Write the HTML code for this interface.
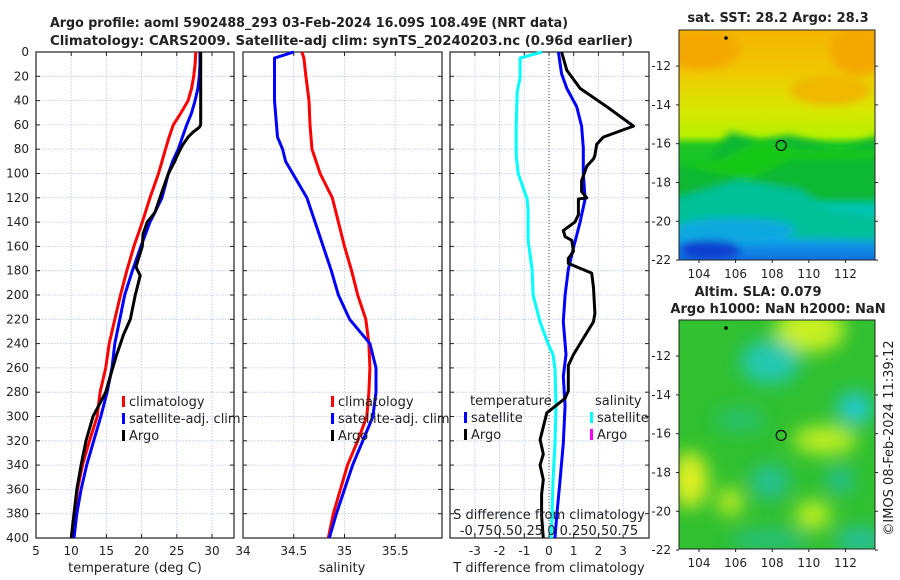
<!DOCTYPE html>
<html><head><meta charset="utf-8"><style>
html,body{margin:0;padding:0;background:#fff;}
svg{display:block;font-family:"DejaVu Sans","Liberation Sans",sans-serif;}
</style></head><body>
<svg id="c" width="900" height="580" viewBox="0 0 900 580"></svg>
<script>
// ---------- data ----------
const tDepth = [0,10,20,30,40,50,60,70,80,90,100,120,140,160,180,200,220,240,260,280,300,320,340,360,380,400];
const tClim  = [27.7,27.6,27.4,27.1,26.6,25.6,24.5,23.9,23.4,22.9,22.4,21.2,20.1,18.9,17.9,17.0,16.2,15.4,14.9,14.1,13.7,12.6,11.6,10.9,10.5,10.1];
const tSat   = [28.3,28.3,28.2,28.0,27.6,27.1,26.4,25.8,25.2,24.4,23.8,22.9,21.2,19.9,18.7,17.6,16.9,16.2,15.8,15.1,14.2,13.2,12.2,11.4,10.8,10.4];
const argoDepth = [0,10,20,30,40,50,60,62,66,70,76,80,86,90,100,110,120,132,140,150,160,173,177,184,200,220,233,240,250,260,270,280,290,300,310,320,340,360,380,400];
const argoT = [28.4,28.4,28.4,28.4,28.4,28.4,28.4,28.2,27.3,26.6,25.9,25.5,25.0,24.7,23.8,23.2,22.6,21.9,20.8,20.2,20.1,19.4,19.2,19.8,19.1,18.4,17.4,17.0,16.4,15.9,15.4,14.9,14.0,13.1,12.6,12.1,11.4,10.8,10.4,10.0];
const sDepth = [0,5,20,40,60,70,80,90,100,120,140,160,180,200,220,240,260,280,300,320,340,360,380,400];
const sClim  = [34.58,34.60,34.62,34.65,34.66,34.67,34.68,34.72,34.76,34.88,34.94,35.00,35.07,35.13,35.21,35.24,35.25,35.24,35.22,35.13,35.03,34.96,34.89,34.84];
const sSat   = [34.50,34.31,34.31,34.31,34.33,34.34,34.39,34.42,34.49,34.63,34.71,34.79,34.87,34.94,35.05,35.25,35.31,35.31,35.28,35.18,35.08,35.00,34.92,34.85];
const dDepthS = [0,5,21,33,61,85,100,121,130,155,179,200,222,240,249,261,291,322,352,382,400];
const dSsat   = [-0.07,-0.29,-0.29,-0.32,-0.33,-0.33,-0.31,-0.22,-0.21,-0.21,-0.17,-0.16,-0.09,-0.01,0.04,0.06,0.07,0.06,0.04,0.03,0.02];
const dDepthT = [0,18,30,45,61,79,100,121,140,161,179,200,222,249,267,291,322,352,382,400];
const dTsat   = [0.38,0.51,0.72,1.12,1.32,1.39,1.39,1.46,1.26,0.99,0.78,0.65,0.58,0.69,0.58,0.65,0.58,0.45,0.31,0.24];
const dDepthA = [0,15,30,45,61,65,70,76,85,88,94,106,115,120,121,134,140,147,152,155,164,170,174,182,194,215,222,240,249,258,270,279,285,297,319,331,340,352,364,382,400];
const dTargo  = [0.51,0.72,1.26,2.34,3.42,2.88,2.2,1.93,1.86,1.8,1.53,1.32,1.32,1.53,1.19,1.19,1.05,0.58,0.65,0.92,0.99,0.78,0.78,1.73,1.8,1.86,1.8,1.26,0.99,0.78,0.78,0.78,0.65,-0.09,-0.36,-0.23,-0.36,-0.23,-0.3,-0.3,-0.23];
const depthTicks = [0,20,40,60,80,100,120,140,160,180,200,220,240,260,280,300,320,340,360,380,400];
const tTicks = [5,10,15,20,25,30];
const sTicks = [34,34.5,35,35.5];
const dTicks = [-3,-2,-1,0,1,2,3];
const lonTicks = [104,106,108,110,112];
const latTicks = [-12,-14,-16,-18,-20,-22];
const argoLon = [108.49];
const argoLat = [-16.09];

// ---------- helpers ----------
const svg = document.getElementById('c');
const NS = 'http://www.w3.org/2000/svg';
function mk(tag, attrs, parent){const e=document.createElementNS(NS,tag);for(const k in attrs)e.setAttribute(k,attrs[k]);(parent||svg).appendChild(e);return e;}
function txt(x,y,s,size,anchor,weight,parent){const t=mk('text',{x:x,y:y,'font-size':size,'text-anchor':anchor||'middle','font-weight':weight||'normal',fill:'#222'},parent);t.textContent=s;return t;}
const Y0=52, Y1=538;
const yD = d => Y0 + (d/400)*(Y1-Y0);
const xT = v => 36 + (v-5)*7.04;
const xS = v => 243 + (v-34)*101.5;
const xDT = v => 549 + v*24.7;
const xDS = v => 549 + v*99.5;

function panel(x0,x1,xTicks,xf,name){
  const g = mk('g',{});
  
  
  depthTicks.forEach(d=>{ if(d>0&&d<400) mk('line',{x1:x0,x2:x1,y1:yD(d),y2:yD(d),stroke:'#b8c4e8','stroke-width':0.8,'stroke-dasharray':'1.5,1.5'},g);
    mk('line',{x1:x0,x2:x0+4,y1:yD(d),y2:yD(d),stroke:'#222'},g);
    mk('line',{x1:x1-4,x2:x1,y1:yD(d),y2:yD(d),stroke:'#222'},g);});
  xTicks.forEach(v=>{const x=xf(v); if(x>x0+1&&x<x1-1) mk('line',{x1:x,x2:x,y1:Y0,y2:Y1,stroke:'#b8c4e8','stroke-width':0.8,'stroke-dasharray':'1.5,1.5'},g);
    mk('line',{x1:x,x2:x,y1:Y1-4,y2:Y1,stroke:'#222'},g); mk('line',{x1:x,x2:x,y1:Y0,y2:Y0+4,stroke:'#222'},g);
    const t=txt(x,Y1+17,String(v),12,'middle','normal',g);
    
    });
  mk('rect',{x:x0,y:Y0,width:x1-x0,height:Y1-Y0,fill:'none',stroke:'#222','stroke-width':1.2},g);
  return g;
}
function line(xs,ds,xf,color,name,w){
  const pts = xs.map((v,i)=>xf(v).toFixed(1)+','+yD(ds[i]).toFixed(1)).join(' ');
  const p = mk('polyline',{points:pts,fill:'none',stroke:color,'stroke-width':w||3,'stroke-linejoin':'round'});
  
  
  return p;
}
function legend(x,y,color,label,name){
  const g=mk('g',{});
  
  
  mk('rect',{x:x,y:y-10,width:3,height:11,fill:color},g);
  txt(x+7,y,label,13,'start','normal',g);
}

// ---------- titles ----------
const t1=txt(50,27,'Argo profile: aoml 5902488_293 03-Feb-2024 16.09S 108.49E (NRT data)',13,'start','bold');
t1.setAttribute('textLength','518');
t1.setAttribute('lengthAdjust','spacingAndGlyphs');


const t2=txt(50,45,'Climatology: CARS2009. Satellite-adj clim: synTS_20240203.nc (0.96d earlier)',13,'start','bold');
t2.setAttribute('textLength','583');
t2.setAttribute('lengthAdjust','spacingAndGlyphs');



// ---------- panel 1: temperature ----------
panel(36,234,tTicks,xT,'temperature-panel');
depthTicks.forEach(d=>{const t=txt(29,yD(d)+4,String(d),12,'end');
  
  });
line(tClim,tDepth,xT,'#ff0000','temp-climatology-line');
line(tSat,tDepth,xT,'#0000ff','temp-satellite-line');
line(argoT,argoDepth,xT,'#000000','temp-argo-line');
const x1l=txt(135,572,'temperature (deg C)',13);


legend(122,406,'#ff0000','climatology','legend-climatology');
legend(122,423,'#0000ff','satellite-adj. clim','legend-satellite');
legend(122,440,'#000000','Argo','legend-argo');

// ---------- panel 2: salinity ----------
panel(243,442,sTicks,xS,'salinity-panel');
line(sClim,sDepth,xS,'#ff0000','sal-climatology-line');
line(sSat,sDepth,xS,'#0000ff','sal-satellite-line');
const x2l=txt(342,572,'salinity',13);


legend(331,406,'#ff0000','climatology','legend-sal-climatology');
legend(331,423,'#0000ff','satellite-adj. clim','legend-sal-satellite');
legend(331,440,'#000000','Argo','legend-sal-argo');

// ---------- panel 3: differences ----------
panel(450,649,dTicks,xDT,'difference-panel');
const zl=mk('line',{x1:549,x2:549,y1:Y0,y2:Y1,stroke:'#444','stroke-width':1,'stroke-dasharray':'1,2'});


line(dSsat,dDepthS,xDS,'#00ffff','sal-diff-satellite-line');
line(dTsat,dDepthT,xDT,'#0000ff','temp-diff-satellite-line');
line(dTargo,dDepthA,xDT,'#000000','temp-diff-argo-line');
const lt=txt(470,405,'temperature',13,'start');


const ls=txt(595,405,'salinity',13,'start');


legend(464,422,'#0000ff','satellite','legend-tdiff-satellite');
legend(464,439,'#000000','Argo','legend-tdiff-argo');
legend(590,422,'#00ffff','satellite','legend-sdiff-satellite');
legend(590,439,'#ff00ff','Argo','legend-sdiff-argo');
const sa=txt(549,519,'S difference from climatology',13);


const sl=txt(549,535,'-0.750.50.25 0 0.250.50.75',13);


const x3l=txt(549,572,'T difference from climatology',13);



// ---------- maps ----------
const defs = mk('defs',{});
const f = mk('filter',{id:'bl',x:'-20%',y:'-20%',width:'140%',height:'140%'},defs);
mk('feGaussianBlur',{stdDeviation:9},f);
const f2 = mk('filter',{id:'bl2',x:'-20%',y:'-20%',width:'140%',height:'140%'},defs);
mk('feGaussianBlur',{stdDeviation:4},f2);
const lg = mk('linearGradient',{id:'sst',x1:0,y1:0,x2:0,y2:1},defs);
[[0,'#f4b400'],[0.18,'#f0c800'],[0.35,'#d8e800'],[0.46,'#b8f000'],[0.5,'#20c820'],[0.62,'#10c040'],[0.72,'#00c090'],[0.8,'#00c8c0'],[0.9,'#10a8e8'],[1,'#1070e0']].forEach(s=>mk('stop',{offset:s[0],'stop-color':s[1]},lg));
function mapAxes(x0,x1,y0,y1,lat0,g){
  const lx = v => 699 + (v-104)*18.3;
  const ly = v => y0 + (lat0 - v)*19.4;
  lonTicks.forEach(v=>{mk('line',{x1:lx(v),x2:lx(v),y1:y1,y2:y1+3,stroke:'#222'},g);
    const t=txt(lx(v),y1+18,String(v),12,'middle','normal',g);
    
    });
  latTicks.forEach(v=>{mk('line',{x1:x0-3,x2:x0,y1:ly(v),y2:ly(v),stroke:'#222'},g);
    mk('line',{x1:x1,x2:x1+3,y1:ly(v),y2:ly(v),stroke:'#222'},g);
    const t=txt(x0-8,ly(v)+4,String(v),12,'end','normal',g);
    
    });
  mk('circle',{cx:lx(argoLon[0]),cy:ly(argoLat[0]),r:5,fill:'none',stroke:'#111','stroke-width':1.3},g);
  mk('circle',{cx:726,cy:y0+8,r:1.8,fill:'#000'},g);
}
// SST map
const m1=mk('g',{});


const cp1=mk('clipPath',{id:'cp1'},defs); mk('rect',{x:679,y:30,width:196,height:230},cp1);
const m1c=mk('g',{'clip-path':'url(#cp1)'},m1);
mk('rect',{x:679,y:30,width:196,height:230,fill:'url(#sst)'},m1c);
const m1b=mk('g',{filter:'url(#bl2)'},m1c);
mk('ellipse',{cx:700,cy:50,rx:40,ry:20,fill:'#f4a800'},m1b);
mk('ellipse',{cx:860,cy:50,rx:30,ry:25,fill:'#f4a800'},m1b);
mk('ellipse',{cx:830,cy:90,rx:40,ry:15,fill:'#f0b800'},m1b);
mk('path',{d:'M670 165 L700 170 L730 132 L760 140 L790 135 L840 150 L880 135 L880 200 L670 200 Z',fill:'#10b830'},m1b);
mk('path',{d:'M670 160 L720 160 L760 140 L800 150 L880 150 L880 158 L830 160 L790 160 L750 180 L700 170 Z',fill:'#18c818'},m1b);
mk('path',{d:'M740 180 L800 190 L830 210 L880 215 L880 240 L670 235 L670 200 Z',fill:'#00c098'},m1b);
mk('ellipse',{cx:735,cy:230,rx:60,ry:12,fill:'#10a8e0'},m1b);
mk('ellipse',{cx:710,cy:250,rx:30,ry:10,fill:'#1040d0'},m1b);
mk('rect',{x:679,y:30,width:196,height:230,fill:'none',stroke:'#222'},m1);
mapAxes(679,875,30,260,-10.14,m1);
const mt1=txt(778,22,'sat. SST: 28.2 Argo: 28.3',13,'middle','bold');


// SLA map
const m2=mk('g',{});


const cp2=mk('clipPath',{id:'cp2'},defs); mk('rect',{x:679,y:320,width:196,height:229},cp2);
const m2c=mk('g',{'clip-path':'url(#cp2)'},m2);
mk('rect',{x:679,y:320,width:196,height:229,fill:'#30c030'},m2c);
const m2b=mk('g',{filter:'url(#bl)'},m2c);
[[810,330,35,22,'#c8f020'],[770,362,30,22,'#20c8b0'],[855,408,18,16,'#20c8d0'],[825,440,32,14,'#c0f020'],[690,480,18,28,'#e0f020'],[730,502,12,14,'#c8f020'],[813,515,18,14,'#c0f020'],[770,482,20,18,'#28c090'],[840,480,14,14,'#28c090'],[740,420,25,12,'#28c070'],[770,540,40,10,'#28c080'],[860,540,25,12,'#28c0a0']].forEach(e=>mk('ellipse',{cx:e[0],cy:e[1],rx:e[2],ry:e[3],fill:e[4]},m2b));
mk('rect',{x:679,y:320,width:196,height:229,fill:'none',stroke:'#222'},m2);
mapAxes(679,875,320,549,-10.14,m2);
const mt2=txt(758,296,'Altim. SLA: 0.079',13,'middle','bold');


const mt3=txt(778,313,'Argo h1000: NaN h2000: NaN',13,'middle','bold');


const cr=txt(0,0,'©IMOS 08-Feb-2024 11:39:12',13,'middle');
cr.setAttribute('transform','translate(893,438) rotate(-90)');


</script>
</body></html>
